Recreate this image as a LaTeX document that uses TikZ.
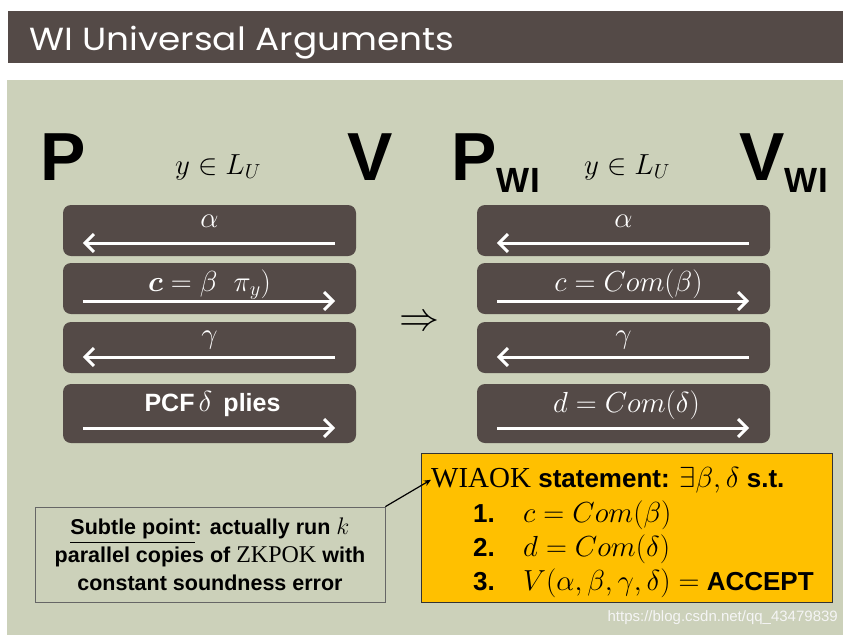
\RequirePackage{fix-cm}
\documentclass[tikz,border=0pt]{standalone}
\usepackage{fontspec}
\usepackage{amsmath,amssymb,bm}
\setmainfont{Liberation Serif}
\setsansfont{Liberation Sans}
\newfontfamily\titlefont{Poppins}
\usetikzlibrary{calc,arrows.meta}
\definecolor{bar}{HTML}{544A47}
\definecolor{panel}{HTML}{CCD1BA}
\definecolor{gold}{HTML}{FFC000}
\begin{document}
\begin{tikzpicture}[x=1pt,y=-1pt,
  msgbox/.style={draw=none,fill=bar,rounded corners=8pt,minimum width=293pt,inner sep=0pt},
  lbl/.style={text=white,inner sep=0pt,font=\fontsize{29}{32}\selectfont},
  msg/.style={draw=white,line width=3pt,-{Straight Barb[length=9pt,width=18pt,line width=3pt]}},
  party/.style={inner sep=0pt,font=\sffamily\bfseries\fontsize{68}{68}\selectfont},
  sub/.style={inner sep=0pt,font=\sffamily\bfseries\fontsize{35}{35}\selectfont},
  ytxt/.style={inner sep=0pt,anchor=base west,font=\fontsize{29}{32}\selectfont},
  ysans/.style={inner sep=0pt,anchor=base west,font=\sffamily\bfseries\fontsize{26}{30}\selectfont}]
\useasboundingbox (0,0) rectangle (848,635);
\fill[white] (0,0) rectangle (848,635);
\fill[bar] (8,11) rectangle (843,63);
\node[anchor=base west,inner sep=0pt,text=white,font=\titlefont\fontsize{32}{32}\selectfont] (title) at (29,50) {\scalebox{1.12}[1]{WI Universal Arguments}};
\fill[panel] (7,80) rectangle (843,635);

% left protocol
\node[party,anchor=base west] (P) at (40,180) {P};
\node[party,anchor=base east] (V) at (393,180) {V};
\node[inner sep=0pt,font=\fontsize{29}{32}\selectfont] (yl) at (218,167) {$y\in L_U$};

\node[msgbox,minimum height=51pt] (l1) at (209.5,230.5) {};
\node[msgbox,minimum height=51pt] (l2) at (209.5,288.5) {};
\node[msgbox,minimum height=51pt] (l3) at (209.5,347.5) {};
\node[msgbox,minimum height=59pt] (l4) at (209.5,413.5) {};
\draw[msg] ($(l1.east)+(-21,12.5)$) -- ($(l1.west)+(20,12.5)$);
\draw[msg] ($(l2.west)+(20,12.5)$) -- ($(l2.east)+(-21,12.5)$);
\draw[msg] ($(l3.east)+(-21,9.5)$) -- ($(l3.west)+(20,9.5)$);
\draw[msg] ($(l4.west)+(20,14.5)$) -- ($(l4.east)+(-21,14.5)$);
\node[lbl] (la1) at ($(l1.center)+(0,-9)$) {$\alpha$};
\node[lbl] (la2) at ($(l2.center)+(0,-4)$) {$\bm{c}=\beta\;\;\pi_y)$};
\node[lbl] (la3) at ($(l3.center)+(0,-7)$) {$\gamma$};
\node[lbl,font=\sffamily\bfseries\fontsize{25}{28}\selectfont] (la4) at ($(l4.center)+(3,-9)$) {PCF\,{\fontsize{29}{32}\selectfont$\delta$}\, plies};

\node[inner sep=0pt,font=\fontsize{40}{40}\selectfont] (impl) at (419,323) {$\Rightarrow$};

% right protocol
\node[party,anchor=base west] (PW) at (451,180) {P};
\node[sub,anchor=base west] (PWs) at (PW.base east) [yshift=-12pt] {WI};
\node[party,anchor=base west] (VW) at (739,180) {V};
\node[sub,anchor=base west] (VWs) at (VW.base east) [yshift=-12pt] {WI};
\node[inner sep=0pt,font=\fontsize{29}{32}\selectfont] (yr) at (627,167) {$y\in L_U$};

\node[msgbox,minimum height=51pt] (r1) at (623.5,230.5) {};
\node[msgbox,minimum height=51pt] (r2) at (623.5,288.5) {};
\node[msgbox,minimum height=51pt] (r3) at (623.5,347.5) {};
\node[msgbox,minimum height=59pt] (r4) at (623.5,413.5) {};
\draw[msg] ($(r1.east)+(-21,12.5)$) -- ($(r1.west)+(20,12.5)$);
\draw[msg] ($(r2.west)+(20,12.5)$) -- ($(r2.east)+(-21,12.5)$);
\draw[msg] ($(r3.east)+(-21,9.5)$) -- ($(r3.west)+(20,9.5)$);
\draw[msg] ($(r4.west)+(20,14.5)$) -- ($(r4.east)+(-21,14.5)$);
\node[lbl] (ra1) at ($(r1.center)+(0,-9)$) {$\alpha$};
\node[lbl] (ra2) at ($(r2.center)+(5,-4)$) {$c=Com(\beta)$};
\node[lbl] (ra3) at ($(r3.center)+(0,-7)$) {$\gamma$};
\node[lbl] (ra4) at ($(r4.center)+(3,-8)$) {$d=Com(\delta)$};

% subtle point box
\node[draw=black!60,line width=0.8pt,fill=panel,minimum width=350pt,minimum height=95pt,inner sep=0pt,align=center,
  font=\sffamily\bfseries\fontsize{21.5}{28}\selectfont] (subtle) at (210,554.5)
  {\underline{Subtle point}: actually run {\fontsize{24}{28}\selectfont$k$}\\ parallel copies of {\fontsize{24}{28}\selectfont$\mathrm{ZKPOK}$} with\\ constant soundness error};

% WIAOK box
\node[draw=black!80,line width=0.8pt,fill=gold,minimum width=411pt,minimum height=149pt,inner sep=0pt] (stmt) at (626.5,527.5) {};
\node[ytxt] (wiaok) at (431,487) {$\mathrm{WIAOK}$ {\sffamily\bfseries\fontsize{26}{30}\selectfont statement:} $\exists\beta,\delta$ {\sffamily\bfseries\fontsize{26}{30}\selectfont s.t.}};
\node[ysans] (n1) at (473,522) {1.};
\node[ytxt] (e1) at (523,522) {$c=Com(\beta)$};
\node[ysans] (n2) at (473,556) {2.};
\node[ytxt] (e2) at (523,556) {$d=Com(\delta)$};
\node[ysans] (n3) at (473,590) {3.};
\node[ytxt] (e3) at (523,590) {$V(\alpha,\beta,\gamma,\delta)=$ {\sffamily\bfseries\fontsize{26}{30}\selectfont ACCEPT}};

\draw[line width=1.2pt,-{Stealth[length=7pt,width=6pt]}] (subtle.north east) -- (wiaok.west);

\node[anchor=base east,inner sep=0pt,text=white!92!gray,font=\sffamily\fontsize{15}{15}\selectfont] (wm) at (838,621) {https://blog.csdn.net/qq\_43479839};
\end{tikzpicture}
\end{document}
